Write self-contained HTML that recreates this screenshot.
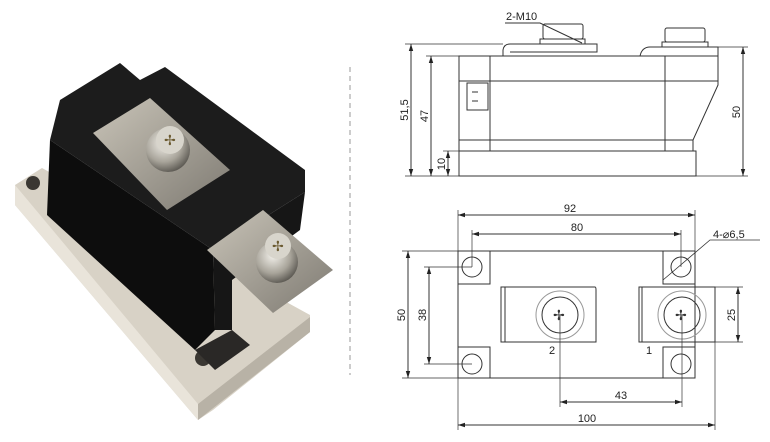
<!DOCTYPE html>
<html><head><meta charset="utf-8"><style>
html,body{margin:0;padding:0;background:#fff;}
svg{display:block;}
text{font-family:"Liberation Sans",sans-serif;font-size:11px;fill:#222;}
</style></head><body>
<svg width="770" height="442" viewBox="0 0 770 442" xmlns="http://www.w3.org/2000/svg">
<defs>
<marker id="a" markerWidth="8" markerHeight="6" refX="7" refY="3" orient="auto-start-reverse" markerUnits="userSpaceOnUse"><path d="M0,0.8 L7,3 L0,5.2z" fill="#222"/></marker>
<radialGradient id="sc" cx="40%" cy="35%" r="70%"><stop offset="0" stop-color="#f2f0ea"/><stop offset="0.6" stop-color="#a8a49a"/><stop offset="1" stop-color="#55524c"/></radialGradient>
<linearGradient id="pl" x1="0" y1="0" x2="1" y2="1"><stop offset="0" stop-color="#c9c4b8"/><stop offset="1" stop-color="#7e7a72"/></linearGradient>
</defs>
<!-- photo -->
<polygon points="15,185 42,168 310,315 310,332 213,410 198,420 15,205" fill="#d8d2c6"/>
<polygon points="15,185 198,404 198,420 15,205" fill="#e9e4da"/>
<polygon points="198,404 310,317 310,332 198,420" fill="#b8b2a6"/>
<circle cx="33" cy="183" r="7" fill="#3a3732"/>
<circle cx="203" cy="358" r="8" fill="#3a3732"/>
<polygon points="195,350 232,330 250,345 215,370" fill="#2a2826"/>
<!-- body top face -->
<polygon points="60,100 120,63 140,80 165,67 305,170 305,192 213,250 50,140" fill="#1c1c1c"/>
<!-- front face -->
<polygon points="50,140 213,250 215,330 195,350 47,215" fill="#0d0d0d"/>
<polygon points="213,250 305,192 300,230 232,280 232,330 215,330" fill="#161616"/>
<polygon points="93,133 150,98 230,170 167,210" fill="url(#pl)"/>
<circle cx="168" cy="150" r="22" fill="url(#sc)"/>
<circle cx="170" cy="140" r="14" fill="#d8d5cc"/>
<text x="164" y="145" style="font-size:14px;fill:#6b5a30">✢</text>
<polygon points="207,250 263,210 333,270 273,313" fill="url(#pl)"/>
<circle cx="277" cy="262" r="21" fill="url(#sc)"/>
<circle cx="278" cy="246" r="13" fill="#d8d5cc"/>
<text x="272" y="251" style="font-size:14px;fill:#6b5a30">✢</text>
<line x1="350" y1="67" x2="350" y2="375" stroke="#999" stroke-dasharray="5,4" stroke-width="1"/>

<!-- side view -->
<g fill="none" stroke="#333" stroke-width="1">
<rect x="459" y="151" width="237" height="25"/>
<polyline points="459,151 459,56 718,56 718,85 693,140 693,151"/>
<line x1="459" y1="81" x2="718" y2="81"/>
<line x1="459" y1="140" x2="693" y2="140"/>
<line x1="490" y1="56" x2="490" y2="151"/>
<line x1="665" y1="56" x2="665" y2="151"/>
<rect x="467" y="83" width="21" height="27"/>
<line x1="472" y1="92" x2="478" y2="92"/><line x1="472" y1="101" x2="478" y2="101"/>
<path d="M503,56 L503,50 Q504,44 510,44 L597,44 L597,52 L510,52"/>
<rect x="540" y="39" width="45" height="5"/>
<rect x="543" y="24" width="40" height="15" rx="2"/>
<path d="M640,56 Q642,47 650,47 L718,47 L718,56"/>
<rect x="662" y="42" width="46" height="5"/>
<rect x="665" y="28" width="40" height="14" rx="2"/>
<line x1="405" y1="44" x2="503" y2="44" stroke-width="0.7"/>
<line x1="405" y1="176" x2="459" y2="176" stroke-width="0.7"/>
<line x1="426" y1="56" x2="459" y2="56" stroke-width="0.7"/>
<line x1="443" y1="151" x2="459" y2="151" stroke-width="0.7"/>
<line x1="718" y1="47" x2="748" y2="47" stroke-width="0.7"/>
<line x1="696" y1="176" x2="748" y2="176" stroke-width="0.7"/>
<line x1="411" y1="44" x2="411" y2="176" marker-start="url(#a)" marker-end="url(#a)"/>
<line x1="431" y1="56" x2="431" y2="176" marker-start="url(#a)" marker-end="url(#a)"/>
<line x1="448" y1="151" x2="448" y2="176" marker-start="url(#a)" marker-end="url(#a)"/>
<line x1="743" y1="47" x2="743" y2="176" marker-start="url(#a)" marker-end="url(#a)"/>
<polyline points="505,23 540,23 582,43"/>
</g>
<text x="506" y="20">2-M10</text>
<text transform="translate(408,110) rotate(-90)" text-anchor="middle">51,5</text>
<text transform="translate(428,116) rotate(-90)" text-anchor="middle">47</text>
<text transform="translate(445,164) rotate(-90)" text-anchor="middle">10</text>
<text transform="translate(740,112) rotate(-90)" text-anchor="middle">50</text>

<!-- top view -->
<g fill="none" stroke="#333" stroke-width="1">
<rect x="458" y="251" width="237" height="127"/>
<polyline points="458,284 490,284 490,251"/>
<polyline points="458,347 490,347 490,378"/>
<polyline points="695,284 663,284 663,251"/>
<polyline points="695,347 663,347 663,378"/>
<circle cx="472" cy="267" r="10"/><circle cx="472" cy="364" r="10"/>
<circle cx="681" cy="267" r="10"/><circle cx="681" cy="364" r="10"/>
<path d="M505,287 L595,287 Q596,287 596,290 L596,342 L505,342"/>
<rect x="501" y="287" width="4" height="55"/>
<circle cx="560" cy="315" r="24" stroke="#999"/>
<circle cx="560" cy="315" r="18"/>
<path d="M642,287 L715,287 L715,342 L642,342"/>
<rect x="639" y="287" width="3" height="55"/>
<circle cx="682" cy="315" r="24" stroke="#999"/>
<circle cx="682" cy="315" r="18"/>
<line x1="458" y1="210" x2="458" y2="251" stroke-width="0.7"/>
<line x1="695" y1="210" x2="695" y2="251" stroke-width="0.7"/>
<line x1="458" y1="215" x2="695" y2="215" marker-start="url(#a)" marker-end="url(#a)"/>
<line x1="472" y1="230" x2="472" y2="267" stroke-width="0.7"/>
<line x1="681" y1="230" x2="681" y2="267" stroke-width="0.7"/>
<line x1="472" y1="234" x2="681" y2="234" marker-start="url(#a)" marker-end="url(#a)"/>
<line x1="402" y1="251" x2="458" y2="251" stroke-width="0.7"/>
<line x1="402" y1="378" x2="458" y2="378" stroke-width="0.7"/>
<line x1="408" y1="251" x2="408" y2="378" marker-start="url(#a)" marker-end="url(#a)"/>
<line x1="424" y1="267" x2="472" y2="267" stroke-width="0.7"/>
<line x1="424" y1="364" x2="472" y2="364" stroke-width="0.7"/>
<line x1="429" y1="267" x2="429" y2="364" marker-start="url(#a)" marker-end="url(#a)"/>
<line x1="715" y1="287" x2="743" y2="287" stroke-width="0.7"/>
<line x1="715" y1="342" x2="743" y2="342" stroke-width="0.7"/>
<line x1="738" y1="287" x2="738" y2="342" marker-start="url(#a)" marker-end="url(#a)"/>
<line x1="560" y1="315" x2="560" y2="407" stroke-width="0.7"/>
<line x1="682" y1="315" x2="682" y2="407" stroke-width="0.7"/>
<line x1="560" y1="402" x2="682" y2="402" marker-start="url(#a)" marker-end="url(#a)"/>
<line x1="458" y1="378" x2="458" y2="430" stroke-width="0.7"/>
<line x1="715" y1="342" x2="715" y2="430" stroke-width="0.7"/>
<line x1="458" y1="425" x2="715" y2="425" marker-start="url(#a)" marker-end="url(#a)"/>
<polyline points="663,280 710,240 760,240" stroke-width="0.8"/>
</g>
<text x="553" y="320" style="font-size:14px;fill:#333">✢</text>
<text x="675" y="320" style="font-size:14px;fill:#333">✢</text>
<text x="570" y="212" text-anchor="middle">92</text>
<text x="577" y="231" text-anchor="middle">80</text>
<text x="713" y="238">4-⌀6,5</text>
<text transform="translate(405,315) rotate(-90)" text-anchor="middle">50</text>
<text transform="translate(426,315) rotate(-90)" text-anchor="middle">38</text>
<text transform="translate(735,315) rotate(-90)" text-anchor="middle">25</text>
<text x="549" y="354">2</text>
<text x="646" y="354">1</text>
<text x="621" y="399" text-anchor="middle">43</text>
<text x="587" y="422" text-anchor="middle">100</text>
</svg>
</body></html>
